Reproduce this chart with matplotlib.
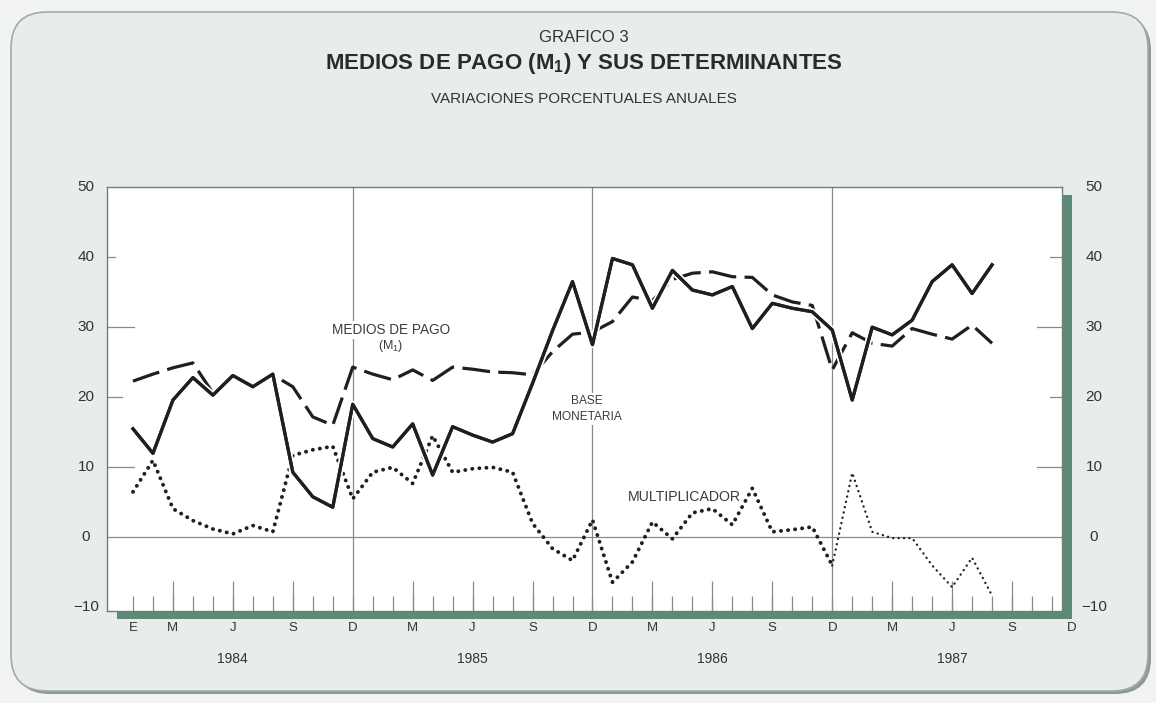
import matplotlib
matplotlib.use('Agg')
import matplotlib.pyplot as plt
import numpy as np
from matplotlib.patches import FancyBboxPatch, Rectangle
import matplotlib.patheffects as pe

plt.rcParams['font.family'] = ['Liberation Sans', 'DejaVu Sans']
plt.rcParams['lines.scale_dashes'] = False
plt.rcParams['mathtext.fontset'] = 'custom'
plt.rcParams['mathtext.rm'] = 'Liberation Sans'
plt.rcParams['mathtext.bf'] = 'Liberation Sans:bold'

# ---------------- data (monthly, Jan 1984 .. Aug 1987) ----------------
base_monetaria = [15.5, 12.0, 19.6, 22.8, 20.3, 23.1, 21.5, 23.3, 9.3, 5.8, 4.3, 19.0,
                  14.1, 12.9, 16.2, 8.9, 15.8, 14.6, 13.6, 14.8, 22.0, 29.5, 36.5, 27.5,
                  39.8, 38.9, 32.7, 38.1, 35.3, 34.6, 35.8, 29.8, 33.4, 32.7, 32.2, 29.6,
                  19.6, 30.0, 28.9, 31.0, 36.5, 38.9, 34.8, 38.9]
medios_de_pago = [22.3, 23.3, 24.2, 24.9, 20.6, 23.0, 21.6, 23.2, 21.5, 17.2, 16.0, 24.3,
                  23.3, 22.5, 23.9, 22.4, 24.3, 24.0, 23.6, 23.5, 23.2, 26.5, 29.0, 29.3,
                  30.8, 34.3, 33.8, 36.8, 37.7, 37.9, 37.2, 37.1, 34.6, 33.6, 33.1, 23.9,
                  29.2, 27.7, 27.3, 29.8, 29.0, 28.3, 30.3, 27.7]
multiplicador = [6.5, 11.0, 4.1, 2.4, 1.2, 0.5, 1.7, 0.8, 11.7, 12.5, 13.0, 5.5,
                 9.3, 10.0, 7.7, 14.5, 9.3, 9.8, 10.0, 9.3, 2.0, -1.6, -3.3, 2.5,
                 -6.4, -3.5, 2.2, -0.2, 3.5, 4.1, 1.8, 7.0, 0.8, 1.1, 1.5, -4.0,
                 9.2, 0.8, -0.1, -0.1, -4.0, -7.1, -2.9, -8.3]
month_letters = ['E', 'M', 'J', 'S', 'D']
month_letter_idx = [0, 2, 5, 8, 11]
years = ['1984', '1985', '1986', '1987']
y_labels = [50, 40, 30, 20, 10, 0, -10]

n = len(base_monetaria)
months = np.arange(n)

W, H = 1156, 703
fig = plt.figure(figsize=(W / 100, H / 100), dpi=100)
fig.patch.set_facecolor('#f1f4f2')

# background card
bg = fig.add_axes([0, 0, 1, 1], zorder=0)
bg.set_xlim(0, W)
bg.set_ylim(H, 0)
bg.axis('off')
bg.add_patch(FancyBboxPatch((14, 15), 1137, 679, boxstyle='round,pad=0,rounding_size=36',
                            fc='#8e9994', ec='none'))
bg.add_patch(FancyBboxPatch((11, 12), 1137, 679, boxstyle='round,pad=0,rounding_size=36',
                            fc='#e7ede9', ec='#a3aba7', lw=1.2))
bg.add_patch(Rectangle((117, 195), 955, 424, fc='#5b8b76', ec='none'))

# plot axes
L, R, T, B = 107, 1062, 187, 611
ax = fig.add_axes([L / W, 1 - B / H, (R - L) / W, (B - T) / H], zorder=1)
ax.set_facecolor('white')
ax.set_xlim(-1.3, 46.5)
ax.set_ylim(-10.5, 50)
for s in ax.spines.values():
    s.set_color('#7a7a7a')
    s.set_linewidth(1.0)
ax.set_xticks([])
ax.set_yticks([])

grid_c = '#8a8a8a'
# December grid lines
for k in range(3):
    ax.axvline(11 + 12 * k, color=grid_c, lw=0.9, zorder=1)
# zero line
ax.axhline(0, color=grid_c, lw=0.9, zorder=1)
# inner y ticks
xt = ax.get_yaxis_transform()
long_frac, short_frac = 27 / (R - L), 12 / (R - L)
for v, fr in [(40, 8 / (R - L)), (30, long_frac), (20, 15 / (R - L)), (10, long_frac)]:
    ax.plot([0, fr], [v, v], transform=xt, color=grid_c, lw=0.9, zorder=1)
for v, fr in [(40, short_frac), (30, 25 / (R - L)), (20, short_frac), (10, 25 / (R - L))]:
    ax.plot([1 - fr, 1], [v, v], transform=xt, color=grid_c, lw=0.9, zorder=1)
# bottom month ticks
tx = ax.get_xaxis_transform()
all_months = np.arange(0, 47)
ax.vlines(all_months, 0, 15 / (B - T), transform=tx, color=grid_c, lw=0.9, zorder=1)
mjs = [m for m in all_months if m % 12 in (2, 5, 8)]
ax.vlines(mjs, 0, 30 / (B - T), transform=tx, color=grid_c, lw=0.9, zorder=1)

dark = '#1f1f1f'

# multiplicador (dotted) - heavy through 1986, fine in 1987
ax.plot(months[:36], multiplicador[:36], color=dark, lw=2.8,
        linestyle=(0, (0.1, 5.0)), dash_capstyle='round', zorder=3)
ax.plot(months[35:], multiplicador[35:], color=dark, lw=1.7,
        linestyle=(0, (0.1, 3.8)), dash_capstyle='round', zorder=3)
# medios de pago (dashed)
ax.plot(months, medios_de_pago, color=dark, lw=2.3, linestyle=(0, (20, 6)),
        solid_joinstyle='miter', zorder=4)
# base monetaria (solid)
ax.plot(months, base_monetaria, color=dark, lw=2.3, zorder=5,
        path_effects=[pe.withStroke(linewidth=5, foreground='white'), pe.Normal()])

# annotations inside the plot
ann_c = '#3c3c3c'
box = dict(fc='white', ec='none', pad=1.5)
ax.text(12.9, 29.6, 'MEDIOS DE PAGO', ha='center', va='center', fontsize=9.8,
        color=ann_c, zorder=6, bbox=box)
ax.text(12.9, 27.3, r'(M$_1$)', ha='center', va='center', fontsize=9.0,
        color=ann_c, zorder=6, bbox=box)
ax.text(22.7, 19.4, 'BASE', ha='center', va='center', fontsize=8.6, color=ann_c,
        zorder=6, bbox=box)
ax.text(22.7, 17.2, 'MONETARIA', ha='center', va='center', fontsize=8.6, color=ann_c,
        zorder=6, bbox=box)
ax.text(27.6, 5.8, 'MULTIPLICADOR', ha='center', va='center', fontsize=10.2,
        color=ann_c, zorder=6)

# y labels both sides
lab_c = '#333333'
for v in y_labels:
    txt = f'{v}' if v >= 0 else f'\u2212{abs(v)}'
    ax.annotate(txt, xy=(0, v), xycoords=('axes fraction', 'data'),
                xytext=(-21 * 0.72, 0), textcoords='offset points',
                ha='center', va='center', fontsize=11, color=lab_c)
    ax.annotate(txt, xy=(1, v), xycoords=('axes fraction', 'data'),
                xytext=(32 * 0.72, 0), textcoords='offset points',
                ha='center', va='center', fontsize=11, color=lab_c)

# month letters and years
for yi, yr in enumerate(years):
    for lt, mi in zip(month_letters, month_letter_idx):
        if yi > 0 and lt == 'E':
            continue
        ax.annotate(lt, xy=(mi + 12 * yi, 0), xycoords=('data', 'axes fraction'),
                    xytext=(0, -17 * 0.72), textcoords='offset points',
                    ha='center', va='center', fontsize=9.5, color=lab_c,
                    annotation_clip=False)
    ax.annotate(yr, xy=(5 + 12 * yi, 0), xycoords=('data', 'axes fraction'),
                xytext=(0, -48 * 0.72), textcoords='offset points',
                ha='center', va='center', fontsize=10, color=lab_c,
                annotation_clip=False)

# titles
fig.text(584 / W, 1 - 37 / H, 'GRAFICO 3', ha='center', va='center', fontsize=12,
         color='#333333')
fig.text(584 / W, 1 - 63 / H, r'MEDIOS DE PAGO (M$_\mathbf{1}$) Y SUS DETERMINANTES',
         ha='center', va='center', fontsize=16, fontweight='bold', color='#2a2a2a')
fig.text(584 / W, 1 - 99 / H, 'VARIACIONES PORCENTUALES ANUALES', ha='center',
         va='center', fontsize=11, color='#333333')

fig.savefig('out.png', dpi=100, facecolor=fig.get_facecolor())
